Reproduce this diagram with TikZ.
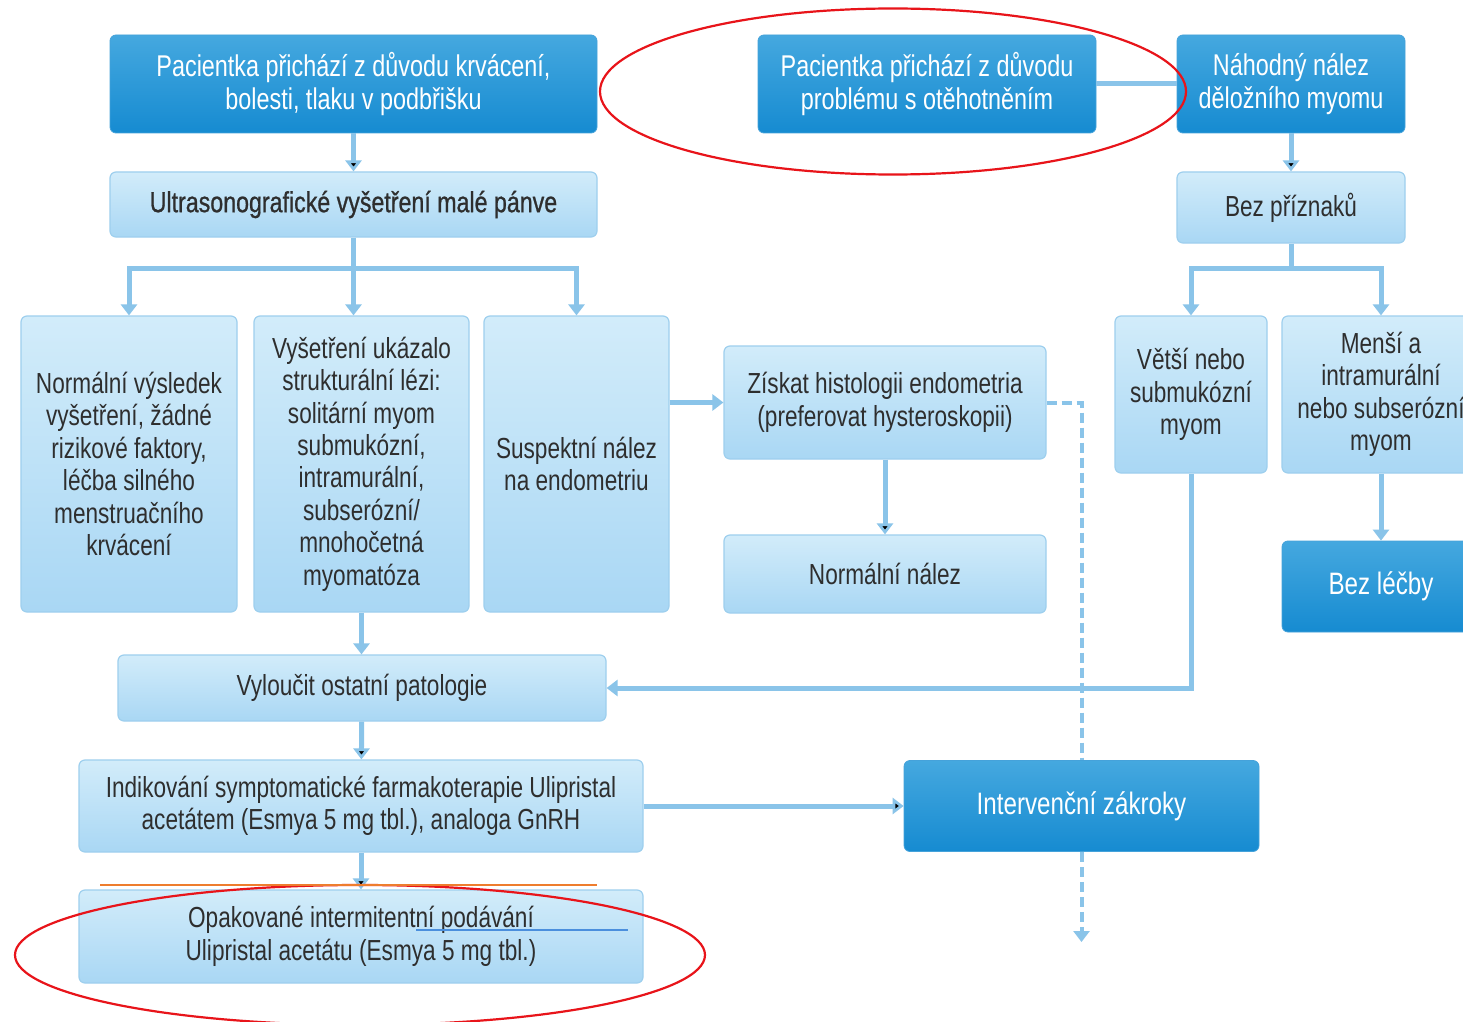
\documentclass[tikz,border=0pt]{standalone}
\usepackage{fontspec}
\setmainfont{Liberation Sans}[FakeStretch=0.78]
\newfontfamily\medfont{Liberation Sans}[FakeStretch=0.8,FakeBold=0.8]
\usepackage{tikz}
\usetikzlibrary{positioning}
\usetikzlibrary{arrows.meta}
\definecolor{lnblue}{HTML}{8AC4E9}
\definecolor{dktop}{HTML}{45A8DF}
\definecolor{dkbot}{HTML}{168BD1}
\definecolor{lttop}{HTML}{D2ECFA}
\definecolor{ltbot}{HTML}{A9D7F4}
\definecolor{ltedge}{HTML}{9ECFEE}
\definecolor{txtgray}{HTML}{2E2E2E}
\definecolor{markred}{HTML}{E8141A}
\definecolor{markorange}{HTML}{EE7D2E}
\definecolor{markblue}{HTML}{4B8FDD}

\begin{document}
\begin{tikzpicture}[x=0.5pt,y=-0.5pt,>={Triangle[length=5.5pt,width=8pt]},
  every node/.style={font=\fontsize{14.5}{16.2}\selectfont,align=center,rounded corners=3pt},
  darkbox/.style={top color=dktop,bottom color=dkbot,draw=dkbot!80,text=white,font=\fontsize{15}{16.2}\selectfont},
  lightbox/.style={top color=lttop,bottom color=ltbot,draw=ltedge,line width=0.6pt,text=txtgray},
  conn/.style={draw=lnblue,line width=2.5pt},
  dashconn/.style={draw=lnblue,line width=2pt,dash pattern=on 5pt off 2.5pt},
  annot/.style={line width=1.1pt}]
\useasboundingbox (0,0) rectangle (1463,1022);
\clip (0,0) rectangle (1463,1022);
\fill[white] (0,0) rectangle (1463,1022);

\node[darkbox,minimum width=243.5pt,minimum height=49pt] (pA) at (353.5,84) {Pacientka přichází z důvodu krvácení,\\bolesti, tlaku v podbřišku};
\node[darkbox,minimum width=169pt,minimum height=49pt] (pB) at (927,84) {Pacientka přichází z důvodu\\problému s otěhotněním};
\node[darkbox,minimum width=114pt,minimum height=49pt] (pC) at (1291,84) {Náhodný nález\\děložního myomu};

\node[lightbox,minimum width=243.5pt,minimum height=32.5pt] (ultra) at (353.5,204.5) {\medfont Ultrasonografické vyšetření malé pánve};
\node[lightbox,minimum width=114pt,minimum height=35.5pt] (bez) at (1291,207.5) {Bez příznaků};

\node[lightbox,minimum width=108pt,minimum height=148pt] (norm) at (129,464) {Normální výsledek\\vyšetření, žádné\\rizikové faktory,\\léčba silného\\menstruačního\\krvácení};
\node[lightbox,minimum width=107.5pt,minimum height=148pt] (vys) at (361.5,464) {Vyšetření ukázalo\\strukturální lézi:\\solitární myom\\submukózní,\\intramurální,\\subserózní/\\mnohočetná\\myomatóza};
\node[lightbox,minimum width=92.5pt,minimum height=148pt] (susp) at (576.5,464) {Suspektní nález\\na endometriu};

\node[lightbox,minimum width=161pt,minimum height=56.5pt] (ziskat) at (885,402.5) {Získat histologii endometria\\(preferovat hysteroskopii)};
\node[lightbox,minimum width=161pt,minimum height=39pt] (nalez) at (885,574) {Normální nález};

\node[lightbox,minimum width=76pt,minimum height=78.5pt] (vetsi) at (1191,394.5) {Větší nebo\\submukózní\\myom};
\node[lightbox,minimum width=99pt,minimum height=78.5pt] (mensi) at (1381,394.5) {Menší a\\intramurální\\nebo subserózní\\myom};
\node[darkbox,minimum width=99pt,minimum height=45.5pt,font=\fontsize{15.5}{18}\selectfont] (lecba) at (1381,586.5) {Bez léčby};

\node[lightbox,minimum width=244pt,minimum height=33pt] (vylo) at (362,688) {Vyloučit ostatní patologie};
\node[lightbox,minimum width=282pt,minimum height=46pt] (indik) at (361,806) {Indikování symptomatické farmakoterapie Ulipristal\\acetátem (Esmya 5 mg tbl.), analoga GnRH};
\node[darkbox,minimum width=177.5pt,minimum height=45.5pt,font=\fontsize{15.5}{18}\selectfont] (interv) at (1081.5,806) {Intervenční zákroky};
\node[lightbox,minimum width=282pt,minimum height=46.5pt] (opak) at (361,936.5) {Opakované intermitentní podávání\\Ulipristal acetátu (Esmya 5 mg tbl.)};

\coordinate (br1) at (353.5,268);
\coordinate (br2) at (1291,268);
\coordinate (dend) at (1081.5,942);

\path[conn,->] (pA) edge (ultra)
  (pC) edge (bez)
  (ziskat) edge (nalez)
  (indik) edge (interv)
  (vylo) edge (indik)
  (indik) edge (opak);
\draw[conn] (pB) -- (pC);
\draw[conn] (ultra) -- (br1);
\draw[conn,->] (br1) -| (norm.north);
\draw[conn,->] (br1) -| (susp.north);
\draw[conn,->] (br1) -- (br1 |- vys.north);
\draw[conn] (bez) -- (br2);
\draw[conn,->] (br2) -| (vetsi.north);
\draw[conn,->] (br2) -| (mensi.north);
\draw[conn,->] (mensi) -- (lecba);
\draw[conn,->] (susp.east |- ziskat) -- (ziskat);
\draw[conn,->] (vys.south) -- (vys.south |- vylo.north);
\draw[conn,->] (vetsi.south) |- (vylo.east);
\draw[dashconn] (ziskat.east) -| (interv.north);
\draw[dashconn,->] (interv.south) -- (dend);

\draw[annot,markred] (893,91.5) ellipse (146.5pt and 41.5pt);
\draw[annot,markred] (360,955) ellipse (172.5pt and 35pt);
\draw[annot,markorange] (100,885) -- (597,885);
\draw[annot,markblue] (416,930) -- (628,930);
\end{tikzpicture}
\end{document}
